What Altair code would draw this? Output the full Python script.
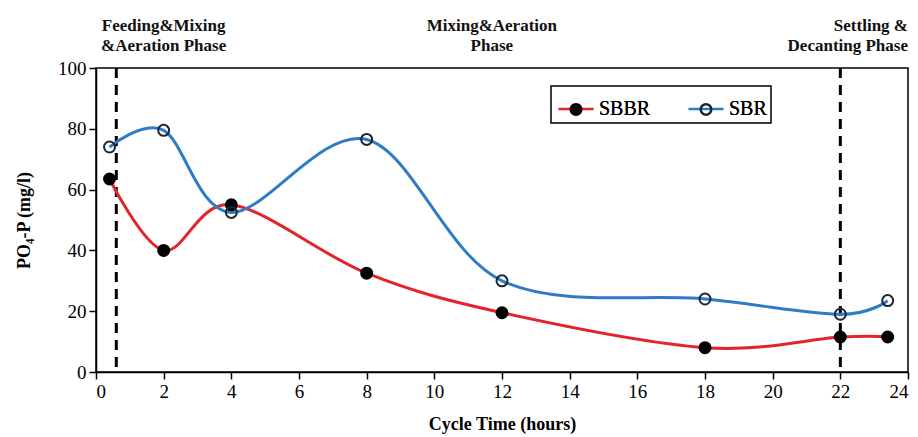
import altair as alt
import pandas as pd

# ---- data ----
hours = [0.4, 2, 4, 8, 12, 18, 22, 23.4]
sbbr = [63.5, 40, 55, 32.5, 19.5, 8, 11.5, 11.5]
sbr = [74, 79.5, 52.5, 76.5, 30, 24, 19, 23.5]
series_names = ["SBBR", "SBR"]
line_colors = ["#e3252b", "#2e7cc4"]
point_fills = ["#000000", "rgba(255,255,255,0)"]
point_strokes = ["#000000", "#1b2633"]
phase_lines = [0.6, 22]
phase_x = [2.0, 11.7, 24]
phase_text = ["Feeding&Mixing\n&Aeration Phase", "Mixing&Aeration\nPhase", "Settling &\nDecanting Phase"]
x_ticks = list(range(0, 25, 2))
y_ticks = list(range(0, 101, 20))

rows = []
for h, v in zip(hours, sbbr):
    rows.append({"Hours": h, "Value": v, "Series": "SBBR", "Series2": "SBBR"})
for h, v in zip(hours, sbr):
    rows.append({"Hours": h, "Value": v, "Series": "SBR", "Series2": "SBR"})
df = pd.DataFrame(rows)

FONT = "Liberation Serif"

x_enc = alt.X("Hours:Q", scale=alt.Scale(domain=[0, 24], nice=False),
              axis=alt.Axis(values=x_ticks, title="Cycle Time (hours)", titleY=52,
                            titleBaseline="middle", titleFont=FONT, labelFont=FONT))
y_enc = alt.Y("Value:Q", scale=alt.Scale(domain=[0, 100], nice=False),
              axis=alt.Axis(values=y_ticks, title="PO₄-P (mg/l)", titleX=-72, titleY=152,
                            titleAngle=-90, titleAlign="center", titleBaseline="middle",
                            titleFont=FONT, labelFont=FONT))

legend_common = dict(orient="none", legendX=455, legendY=18, direction="horizontal",
                     title=None, symbolSize=1225, symbolStrokeWidth=2.5,
                     labelFont=FONT, labelFontSize=20, labelColor="black",
                     padding=4, columnPadding=32, symbolOffset=2)

lines = alt.Chart(df).mark_line(interpolate="cardinal", strokeWidth=3).encode(
    x=x_enc, y=y_enc,
    color=alt.Color("Series:N", scale=alt.Scale(domain=series_names, range=line_colors),
                    legend=alt.Legend(symbolType="stroke", strokeColor="black",
                                      fillColor="white", zindex=1, **legend_common)),
)

points = alt.Chart(df).mark_circle(size=120, strokeWidth=2, opacity=1).encode(
    x="Hours:Q", y="Value:Q",
    fill=alt.Fill("Series2:N", scale=alt.Scale(domain=series_names, range=point_fills),
                  legend=alt.Legend(
                      symbolType="M-1,0M1,0M0.3,0A0.3,0.3 0 1 1 -0.3,0A0.3,0.3 0 1 1 0.3,0Z",
                      symbolStrokeColor="#1b2633", symbolOpacity=1, zindex=2,
                      **legend_common)),
    stroke=alt.Stroke("Series2:N", scale=alt.Scale(domain=series_names, range=point_strokes),
                      legend=None),
)

rules = alt.Chart(pd.DataFrame({"x": phase_lines})).mark_rule(
    color="black", strokeWidth=3, strokeDash=[10, 7]
).encode(x="x:Q")

labels_df = pd.DataFrame({"x": phase_x, "t": phase_text})
ann_center = alt.Chart(labels_df.iloc[:2]).mark_text(
    font=FONT, fontSize=17, fontWeight="bold", color="#111111", align="center",
    baseline="top", lineBreak="\n", lineHeight=20
).encode(x="x:Q", y=alt.value(-50), text="t:N")
ann_right = alt.Chart(labels_df.iloc[2:]).mark_text(
    font=FONT, fontSize=17, fontWeight="bold", color="#111111", align="right",
    baseline="top", lineBreak="\n", lineHeight=20
).encode(x="x:Q", y=alt.value(-50), text="t:N")

chart = alt.layer(rules, lines, points, ann_center, ann_right).resolve_scale(
    color="independent", fill="independent", stroke="independent"
).properties(
    width=812, height=304, autosize="none",
    padding={"left": 96, "top": 68, "right": 10, "bottom": 65},
    background="white",
).configure_view(stroke="black", strokeWidth=1.5).configure_axis(
    grid=False, labelFont=FONT, labelFontSize=19, labelColor="black",
    titleFont=FONT, titleFontSize=18, titleFontWeight="bold", titleColor="black",
    domainColor="black", domainWidth=1.5, tickColor="black", tickSize=7, tickWidth=1.5,
    labelPadding=3,
).configure_legend(strokeWidth=1.5, labelFont=FONT)

chart.save("out.html", embed_options={"renderer": "svg", "actions": False})
